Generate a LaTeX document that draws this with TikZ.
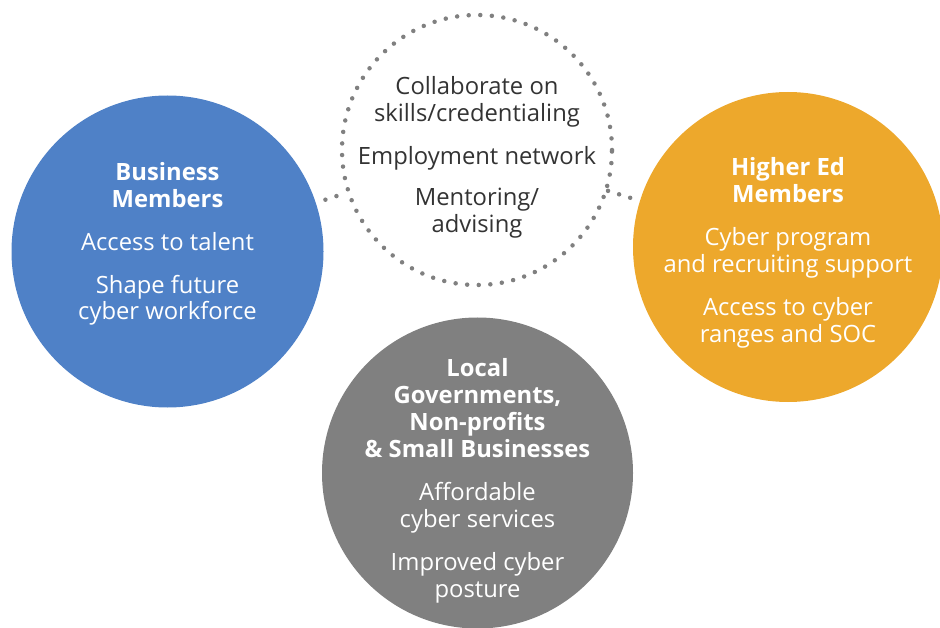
\documentclass[tikz,border=0pt]{standalone}
\usepackage{fontspec}
\setmainfont{Open Sans}
\definecolor{bizblue}{HTML}{4F81C7}
\definecolor{edorange}{HTML}{EDA82C}
\definecolor{govgray}{HTML}{808080}
\definecolor{dotgray}{HTML}{808080}
\tikzset{
  member/.style={circle, inner sep=0pt, minimum size=#1},
  txt/.style={align=center, text=white, inner sep=0pt, anchor=base, font=\fontsize{23.8}{27}\selectfont},
  head/.style={txt, font=\fontsize{23.8}{27}\selectfont\bfseries},
  dotline/.style={draw=dotgray, line width=4.5pt, line cap=round, dash pattern=on 0pt off 11.6pt},
}
\begin{document}
\begin{tikzpicture}[x=1pt, y=-1pt]
\useasboundingbox (0,0) rectangle (940,628);
\node[member=312pt, fill=bizblue] (biz) at (167.5,251.5){};
\node[member=310pt, fill=edorange] (hied) at (788,247){};
\node[member=311pt, fill=govgray] (gov) at (477.5,473){};
\node[member=270pt, dotline] (net) at (477,150){};
\draw[dotline, shorten <=10pt] (biz) -- (net);
\draw[dotline, shorten >=10pt] (net) -- (hied);

\node[head] (bizhead) at (167.5,208){Business\\Members};
\node[txt] (biztalent) at (167.5,251){Access to talent};
\node[txt] (bizshape) at (167.5,320){Shape future\\cyber workforce};

\node[head] (hiedhead) at (788,203){Higher Ed\\Members};
\node[txt] (hiedprog) at (788,273){Cyber program\\and recruiting support};
\node[txt] (hiedrange) at (788,342){Access to cyber\\ranges and SOC};

\node[head] (govhead) at (477.5,457){Local\\Governments,\\Non-profits\\\& Small Businesses};
\node[txt] (govserv) at (477.5,527){Affordable\\cyber services};
\node[txt] (govpost) at (477.5,597){Improved cyber\\posture};

\node[txt, text=black!80] (netskill) at (477,122){Collaborate on\\skills/credentialing};
\node[txt, text=black!80] (netjob) at (477,165){Employment network};
\node[txt, text=black!80] (netmentor) at (477,233){Mentoring/\\advising};
\end{tikzpicture}
\end{document}
